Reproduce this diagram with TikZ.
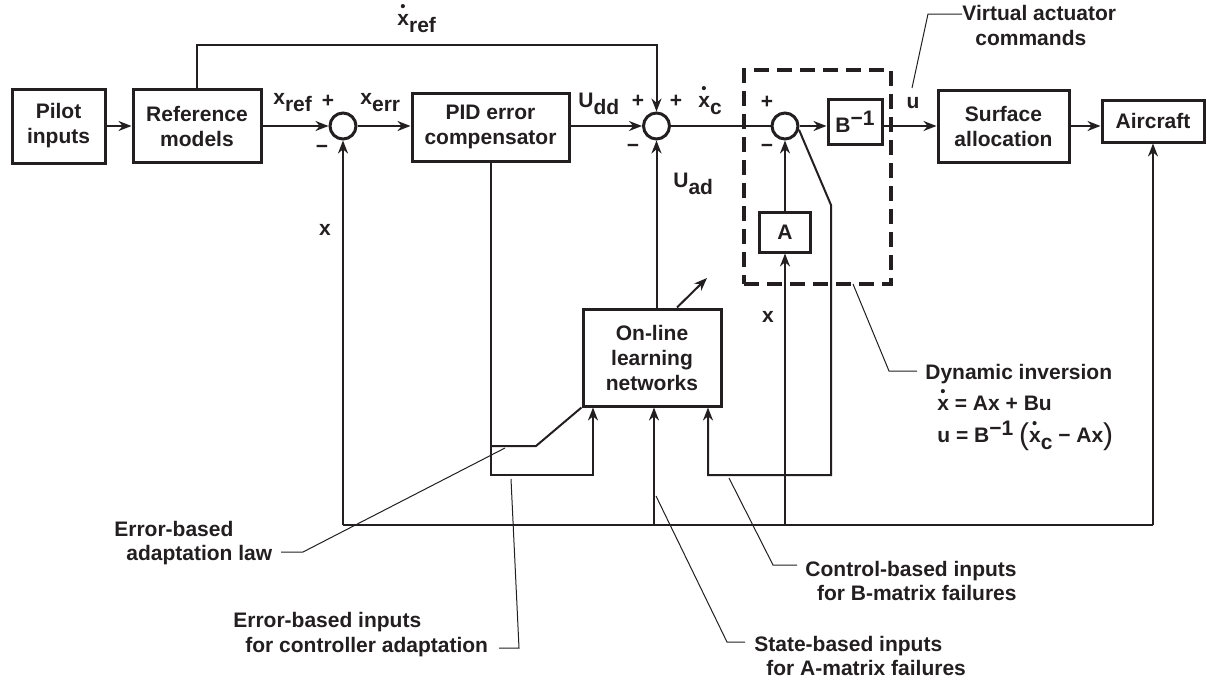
\documentclass[tikz,border=0pt]{standalone}
\usepackage{fontspec}
\setmainfont{Liberation Sans}
\usetikzlibrary{arrows.meta}
\definecolor{ink}{HTML}{231F20}
\newcommand\xd{\leavevmode\rlap{\tikz[overlay]\fill[ink] (0.26em,0.9em) circle[radius=0.1em];}x}
\newcommand\sbs[1]{\raisebox{-0.38em}{#1}}
\newcommand\sps[1]{\raisebox{0.33em}{#1}}
\newcommand\bigp[1]{\smash{\raisebox{-1pt}{\fontsize{15}{15}\selectfont\mdseries #1}}}
\begin{document}
\begin{tikzpicture}[x=0.5pt,y=-0.5pt,
  every node/.style={font=\fontsize{10.5}{12.5}\selectfont\bfseries, text=ink},
  blk/.style={draw=ink, line width=1.5pt, fill=white, align=center, inner sep=0pt},
  sumc/.style={circle, draw=ink, line width=1.5pt, minimum size=13pt, inner sep=0pt},
  dashbox/.style={draw=ink, line width=2pt, dash pattern=on 7.5pt off 4pt, inner sep=0pt},
  conn/.style={draw=ink, line width=1pt},
  arr/.style={conn, -{Stealth[length=6.5pt,width=5pt]}},
  lead/.style={draw=ink, line width=0.5pt},
  lbl/.style={inner sep=0pt, anchor=base west},
  lblc/.style={inner sep=0pt, anchor=base},
  lble/.style={inner sep=0pt, anchor=base east},
  sgn/.style={inner sep=0pt, anchor=center}]
\useasboundingbox (0,0) rectangle (1207,681);

% blocks
\node[blk, minimum width=46.5pt, minimum height=37pt] (pilot) at (58.5,126) {Pilot\\inputs};
\node[blk, minimum width=64pt, minimum height=36.5pt] (ref) at (197,126) {Reference\\models};
\node[sumc] (s1) at (343,126) {};
\node[blk, minimum width=78.5pt, minimum height=34pt] (pid) at (490.5,127) {PID error\\compensator};
\node[sumc] (s2) at (656.5,126) {};
\node[dashbox, minimum width=73.5pt, minimum height=107pt] (di) at (817.5,177) {};
\node[sumc] (s3) at (785,126) {};
\node[blk, minimum width=27pt, minimum height=22.5pt] (binv) at (855,121.5) {B\sps{−1}};
\node[blk, minimum width=25.5pt, minimum height=20pt] (amat) at (785,232) {A};
\node[blk, minimum width=65.5pt, minimum height=36pt] (surf) at (1003.5,126) {Surface\\allocation};
\node[blk, minimum width=51pt, minimum height=21pt] (air) at (1153,121) {Aircraft};
\node[blk, minimum width=69pt, minimum height=48.5pt] (net) at (652,357.5) {On-line\\learning\\networks};

% helper coordinates
\coordinate (ty) at (0,45);
\coordinate (by) at (0,525);
\coordinate (py) at (0,475);
\coordinate (ey) at (0,446);
\coordinate (xa) at (593,0);
\coordinate (xs) at (654,0);
\coordinate (xc) at (708,0);
\coordinate (xr) at (831,0);
\coordinate (adapt) at (707,278);

% main row
\draw[arr] (pilot) -- (ref);
\draw[arr] (ref) -- (s1);
\draw[arr] (s1.east) -- (s1.east -| pid.west);
\draw[arr] (pid.east |- s2) -- (s2.west);
\draw[conn] (s2) -- (s3);
\draw[arr] (s3.east) -- (s3.east -| binv.west);
\draw[arr] (binv.east |- s3) -- (surf.west |- s3);
\draw[arr] (surf.east) -- (surf.east -| air.west);
\draw[arr] (amat.north) -- (s3.south);

% reference rate feedforward
\draw[arr] (ref.north) |- (ty -| s2) -- (s2.north);

% adaptive signal
\draw[arr] (net.north -| s2) -- (s2.south);
\draw[arr] ([xshift=12.5pt]net.north) -- (adapt);

% state feedback bus
\draw[conn] (by -| s1) -- (by -| air);
\draw[arr] (by -| s1) -- (s1.south);
\draw[arr] (by -| xs) -- (xs |- net.south);
\draw[arr] (by -| amat) -- (amat.south);
\draw[arr] (by -| air) -- (air.south);

% error inputs
\draw[arr] (pid.south) -- (pid.south |- py) -| (xa |- net.south);
\draw[conn] (pid.south |- ey) -- (536,446) -- (net.south west);

% control inputs
\draw[arr] (s3.-15) -- (xr |- 0,205) -- (xr |- py) -| (xc |- net.south);

% signal labels
\node[lbl] (lxref) at (397,25) {\xd\sbs{ref}};
\node[lbl] (lxr) at (273,104) {x\sbs{ref}};
\node[lbl] (lxe) at (360,104) {x\sbs{err}};
\node[sgn] (p1) at (328,101) {+};
\node[sgn] (m1) at (322,149) {−};
\node[lbl] (ludd) at (578,107) {U\sbs{dd}};
\node[sgn] (p2a) at (638,101) {+};
\node[sgn] (p2b) at (676,101) {+};
\node[sgn] (m2) at (633,148) {−};
\node[lbl] (lxc) at (698,107) {\xd\sbs{c}};
\node[lbl] (luad) at (673,187) {U\sbs{ad}};
\node[lblc] (lx1) at (325,235) {x};
\node[sgn] (p3) at (767,102) {+};
\node[sgn] (m3) at (767,148) {−};
\node[lblc] (lu) at (913,108) {u};
\node[lblc] (lx2) at (768,322) {x};

% annotations
\node[lbl] (va1) at (962,20) {Virtual actuator};
\node[lbl] (va2) at (975,45) {commands};
\draw[lead] (912,88) -- (928,14) -- (va1.west |- 0,14);

\node[lbl] (dyn) at (925,379) {Dynamic inversion};
\node[lbl] (eq1) at (937,410) {\xd{} = Ax + Bu};
\node[lbl] (eq2) at (937,442) {u = B\sps{−1} \bigp{(}\xd\sbs{c} − Ax\bigp{)}};
\draw[lead] (853,284) -- (889,371) -- (917,371);

\node[lbl] (ebl1) at (114,536) {Error-based};
\node[lbl] (ebl2) at (126,560) {adaptation law};
\draw[lead] (281,552) -- (303,552) -- (505,448);

\node[lbl] (ebi1) at (233,627) {Error-based inputs};
\node[lbl] (ebi2) at (245,652) {for controller adaptation};
\draw[lead] (499,648) -- (519,648) -- (511,479);

\node[lble] (cb1) at (1017,576) {Control-based inputs};
\node[lble] (cb2) at (1017,600) {for B-matrix failures};
\draw[lead] (797,565) -- (773,565) -- (729,478);

\node[lbl] (sb1) at (754,651) {State-based inputs};
\node[lbl] (sb2) at (766,675) {for A-matrix failures};
\draw[lead] (745,642) -- (727,642) -- (656,496);
\end{tikzpicture}
\end{document}
